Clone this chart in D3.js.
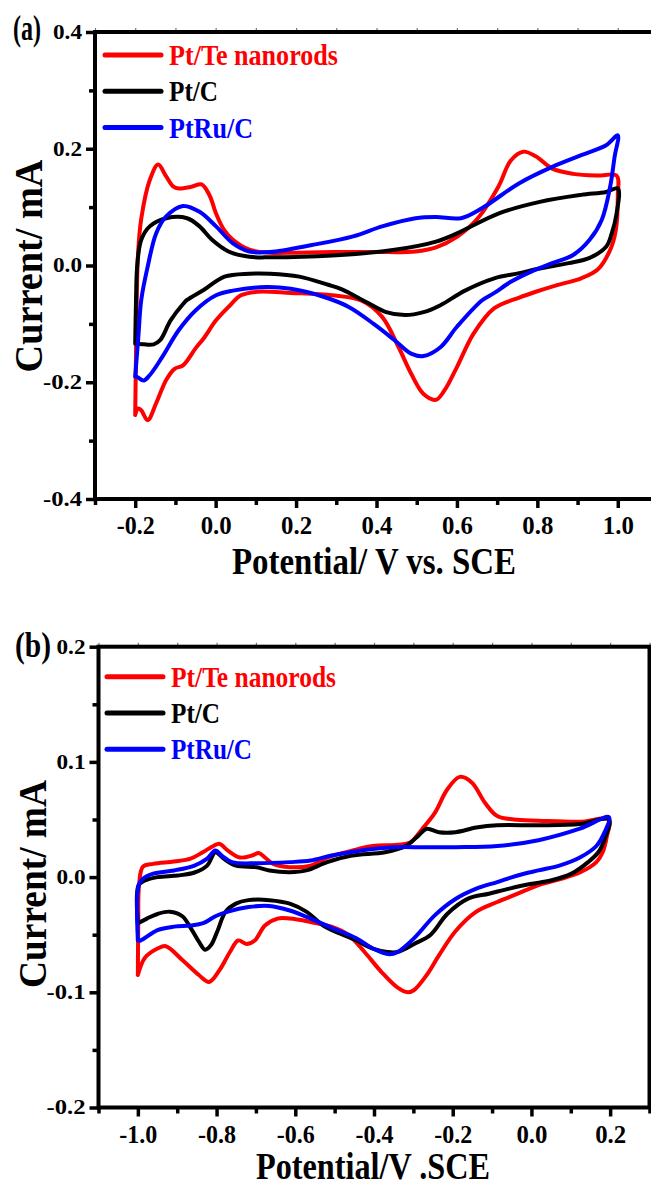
<!DOCTYPE html>
<html>
<head>
<meta charset="utf-8">
<script src="https://d3js.org/d3.v7.min.js"></script>
<style>
  body { margin: 0; background: #fff; }
  svg { display: block; }
  text { font-family: 'Liberation Serif', 'Times New Roman', serif; font-weight: bold; }
</style>
</head>
<body>
<script>

/*--- Panel (a) data: potential (V vs SCE), current (mA) ---*/
var aPtTe = [[-0.2,-0.255],[-0.198,-0.15],[-0.196,-0.05],[-0.193,0.02],[-0.185,0.08],[-0.164,0.146],[-0.143,0.173],[-0.125,0.155],[-0.105,0.135],[-0.092,0.132],[-0.06,0.135],[-0.035,0.139],[-0.015,0.12],[0.001,0.089],[0.02,0.062],[0.043,0.044],[0.084,0.027],[0.135,0.022],[0.2,0.022],[0.29,0.023],[0.4,0.023],[0.497,0.024],[0.548,0.031],[0.6,0.049],[0.651,0.08],[0.703,0.135],[0.734,0.18],[0.765,0.195],[0.796,0.187],[0.837,0.166],[0.889,0.157],[0.95,0.154],[0.997,0.154],
  [1.0,0.12],[0.995,0.06],[0.98,0.025],[0.95,-0.007],[0.909,-0.022],[0.847,-0.034],[0.796,-0.045],[0.755,-0.055],[0.693,-0.073],[0.641,-0.117],[0.6,-0.174],[0.569,-0.214],[0.548,-0.23],[0.517,-0.22],[0.486,-0.185],[0.455,-0.14],[0.414,-0.088],[0.362,-0.06],[0.29,-0.051],[0.187,-0.047],[0.104,-0.045],[0.063,-0.051],[0.032,-0.071],[0.001,-0.094],[-0.03,-0.125],[-0.05,-0.142],[-0.081,-0.171],[-0.102,-0.177],[-0.123,-0.196],[-0.148,-0.236],[-0.169,-0.265],[-0.185,-0.248],[-0.193,-0.245],[-0.2,-0.256]];
var aPtC = [[-0.2,-0.134],[-0.198,-0.06],[-0.195,0.0],[-0.185,0.044],[-0.164,0.067],[-0.123,0.081],[-0.071,0.081],[-0.04,0.067],[-0.009,0.044],[0.032,0.024],[0.084,0.015],[0.135,0.014],[0.29,0.017],[0.445,0.027],[0.548,0.041],[0.6,0.055],[0.703,0.089],[0.806,0.109],[0.909,0.121],[0.971,0.126],[1.0,0.132],
  [0.997,0.089],[0.985,0.055],[0.971,0.032],[0.93,0.013],[0.878,0.004],[0.806,-0.005],[0.755,-0.013],[0.693,-0.022],[0.62,-0.043],[0.559,-0.068],[0.517,-0.08],[0.471,-0.085],[0.424,-0.08],[0.373,-0.062],[0.311,-0.04],[0.28,-0.033],[0.208,-0.019],[0.135,-0.014],[0.084,-0.014],[0.022,-0.019],[-0.03,-0.042],[-0.071,-0.059],[-0.081,-0.066],[-0.112,-0.094],[-0.138,-0.128],[-0.154,-0.135],[-0.179,-0.135],[-0.195,-0.134],[-0.2,-0.134]];
var aPtRu = [[-0.2,-0.19],[-0.192,-0.12],[-0.185,-0.059],[-0.169,-0.002],[-0.148,0.055],[-0.123,0.084],[-0.081,0.102],[-0.04,0.092],[0.001,0.067],[0.043,0.038],[0.084,0.024],[0.135,0.023],[0.239,0.035],[0.342,0.05],[0.414,0.067],[0.497,0.081],[0.548,0.083],[0.61,0.081],[0.662,0.098],[0.755,0.141],[0.837,0.169],[0.909,0.189],[0.971,0.206],[1.0,0.223],
  [0.992,0.186],[0.981,0.135],[0.96,0.078],[0.93,0.044],[0.889,0.018],[0.837,0.004],[0.786,-0.01],[0.734,-0.028],[0.693,-0.047],[0.662,-0.06],[0.6,-0.105],[0.559,-0.14],[0.517,-0.155],[0.486,-0.151],[0.445,-0.128],[0.393,-0.1],[0.331,-0.071],[0.27,-0.054],[0.187,-0.04],[0.125,-0.037],[0.043,-0.043],[0.001,-0.051],[-0.05,-0.077],[-0.092,-0.111],[-0.133,-0.157],[-0.164,-0.188],[-0.179,-0.197],[-0.195,-0.191],[-0.2,-0.19]];

/*--- Panel (b) data ---*/
var bPtTe = [[-1.0,-0.085],[-0.999,-0.04],[-0.997,-0.007],[-0.987,0.009],[-0.961,0.0115],[-0.908,0.0135],[-0.866,0.016],[-0.835,0.0216],[-0.808,0.027],[-0.793,0.029],[-0.771,0.023],[-0.74,0.017],[-0.708,0.019],[-0.693,0.021],[-0.677,0.017],[-0.656,0.0115],[-0.614,0.0086],[-0.561,0.01],[-0.519,0.017],[-0.456,0.023],[-0.403,0.027],[-0.34,0.028],[-0.308,0.03],[-0.277,0.042],[-0.245,0.056],[-0.214,0.076],[-0.182,0.087],[-0.151,0.082],[-0.119,0.065],[-0.087,0.053],[-0.045,0.05],[0.018,0.049],[0.123,0.048],[0.197,0.05],
  [0.192,0.036],[0.181,0.0216],[0.165,0.013],[0.123,0.004],[0.071,-0.002],[0.018,-0.007],[-0.035,-0.0144],[-0.087,-0.0216],[-0.14,-0.03],[-0.193,-0.047],[-0.235,-0.068],[-0.266,-0.085],[-0.298,-0.098],[-0.314,-0.1],[-0.34,-0.096],[-0.382,-0.082],[-0.424,-0.065],[-0.466,-0.05],[-0.508,-0.043],[-0.561,-0.039],[-0.614,-0.036],[-0.645,-0.036],[-0.677,-0.042],[-0.703,-0.055],[-0.724,-0.058],[-0.745,-0.055],[-0.766,-0.065],[-0.793,-0.081],[-0.819,-0.091],[-0.845,-0.085],[-0.887,-0.072],[-0.929,-0.06],[-0.95,-0.062],[-0.982,-0.07],[-1.0,-0.085]];
var bPtC = [[-1.0,-0.04],[-0.998,-0.007],[-0.982,-0.003],[-0.95,0.0],[-0.898,0.0014],[-0.856,0.004],[-0.824,0.01],[-0.803,0.0216],[-0.782,0.016],[-0.751,0.01],[-0.698,0.0086],[-0.666,0.0058],[-0.614,0.0043],[-0.572,0.0058],[-0.519,0.013],[-0.456,0.0187],[-0.372,0.0216],[-0.319,0.027],[-0.287,0.036],[-0.266,0.042],[-0.235,0.039],[-0.193,0.039],[-0.14,0.043],[-0.087,0.045],[0.018,0.045],[0.123,0.046],[0.197,0.05],
  [0.186,0.033],[0.17,0.0216],[0.144,0.013],[0.102,0.003],[0.049,-0.003],[-0.003,-0.006],[-0.056,-0.01],[-0.108,-0.0144],[-0.161,-0.0187],[-0.214,-0.032],[-0.256,-0.05],[-0.298,-0.058],[-0.34,-0.065],[-0.366,-0.065],[-0.403,-0.062],[-0.445,-0.055],[-0.487,-0.049],[-0.529,-0.042],[-0.572,-0.03],[-0.614,-0.023],[-0.666,-0.02],[-0.719,-0.02],[-0.751,-0.023],[-0.777,-0.03],[-0.798,-0.047],[-0.814,-0.059],[-0.829,-0.063],[-0.845,-0.056],[-0.866,-0.044],[-0.887,-0.034],[-0.919,-0.03],[-0.95,-0.032],[-0.977,-0.036],[-1.0,-0.04]];
var bPtRu = [[-1.0,-0.055],[-0.998,-0.007],[-0.987,-0.0014],[-0.961,0.003],[-0.908,0.0058],[-0.856,0.01],[-0.824,0.016],[-0.803,0.023],[-0.787,0.0187],[-0.761,0.013],[-0.698,0.012],[-0.614,0.013],[-0.561,0.0144],[-0.508,0.0187],[-0.424,0.0236],[-0.351,0.026],[-0.298,0.026],[-0.193,0.026],[-0.087,0.027],[0.018,0.032],[0.123,0.042],[0.197,0.052],
  [0.186,0.039],[0.165,0.027],[0.123,0.017],[0.071,0.01],[0.018,0.0058],[-0.035,0.0014],[-0.087,-0.0043],[-0.14,-0.01],[-0.193,-0.019],[-0.245,-0.033],[-0.298,-0.053],[-0.34,-0.065],[-0.361,-0.067],[-0.403,-0.062],[-0.445,-0.053],[-0.508,-0.044],[-0.561,-0.036],[-0.614,-0.029],[-0.666,-0.025],[-0.719,-0.026],[-0.771,-0.03],[-0.803,-0.034],[-0.834,-0.04],[-0.866,-0.042],[-0.908,-0.043],[-0.95,-0.046],[-0.993,-0.055],[-1.0,-0.055]];

/*--- Labels and ticks ---*/
var seriesNames = ["Pt/Te nanorods", "Pt/C", "PtRu/C"];
var seriesColors = ["#ff0000", "#000000", "#0000ff"];

var aXMajor = [-0.2, 0, 0.2, 0.4, 0.6, 0.8, 1.0];
var aXMinor = [-0.3, -0.1, 0.1, 0.3, 0.5, 0.7, 0.9, 1.1];
var aYMajor = [-0.4, -0.2, 0, 0.2, 0.4];
var aYMinor = [-0.3, -0.1, 0.1, 0.3];

var bXMajor = [-1.0, -0.8, -0.6, -0.4, -0.2, 0, 0.2];
var bXMinor = [-1.1, -0.9, -0.7, -0.5, -0.3, -0.1, 0.1, 0.3];
var bYMajor = [-0.2, -0.1, 0, 0.1, 0.2];
var bYMinor = [-0.15, -0.05, 0.05, 0.15];

var svg = d3.select("body").append("svg")
  .attr("width", 651).attr("height", 1186);

function fmt(d) { return d.toFixed(1); }

/*--- Draws one CV panel ---*/
function drawPanel(p) {
  var x = d3.scaleLinear().domain(p.xDomain).range([p.left, p.right]),
    y = d3.scaleLinear().domain(p.yDomain).range([p.bottom, p.top]),
    g = svg.append("g");

  // minor ticks
  g.append("g").attr("transform", "translate(0," + p.bottom + ")")
    .call(d3.axisBottom(x).tickValues(p.xMinor).tickSize(6).tickFormat(""))
    .call(function(s){ s.select(".domain").remove(); s.selectAll("line").attr("stroke-width", 3.5); });
  g.append("g").attr("transform", "translate(" + p.left + ",0)")
    .call(d3.axisLeft(y).tickValues(p.yMinor).tickSize(6).tickFormat(""))
    .call(function(s){ s.select(".domain").remove(); s.selectAll("line").attr("stroke-width", 3.5); });

  // top ticks (thin)
  g.append("g").attr("transform", "translate(0," + p.top + ")")
    .call(d3.axisTop(x).tickValues(p.xMajor.concat(p.xMinor)).tickSize(4).tickFormat(""))
    .call(function(s){ s.select(".domain").remove(); s.selectAll("line").attr("stroke-width", 1.2).attr("stroke", "#777"); });

  // major ticks + labels
  g.append("g").attr("transform", "translate(0," + p.bottom + ")")
    .call(d3.axisBottom(x).tickValues(p.xMajor).tickSize(9).tickFormat(fmt))
    .call(function(s){
      s.select(".domain").remove();
      s.selectAll("line").attr("stroke-width", 3.5);
      s.selectAll("text").attr("y", 35).attr("dy", 0)
        .attr("fill", "#000").style("font-size", "25px")
        .attr("textLength", function(d){ return fmt(d).length > 3 ? 38 : 31; })
        .attr("lengthAdjust", "spacingAndGlyphs");
    });
  g.append("g").attr("transform", "translate(" + p.left + ",0)")
    .call(d3.axisLeft(y).tickValues(p.yMajor).tickSize(9).tickPadding(4).tickFormat(fmt))
    .call(function(s){
      s.select(".domain").remove();
      s.selectAll("line").attr("stroke-width", 3.5);
      s.selectAll("text").attr("fill", "#000").style("font-size", "20px")
        .attr("textLength", function(d){ return fmt(d).length > 3 ? 39 : 29; })
        .attr("lengthAdjust", "spacingAndGlyphs");
    });

  // frame
  g.append("rect")
    .attr("x", p.left).attr("y", p.top)
    .attr("width", p.right - p.left).attr("height", p.bottom - p.top)
    .attr("fill", "none").attr("stroke", "#000").attr("stroke-width", 4);

  // curves
  var line = d3.line()
    .x(function(d){ return x(d[0]); })
    .y(function(d){ return y(d[1]); })
    .curve(d3.curveCatmullRom.alpha(0.5));

  p.series.forEach(function(s, i){
    g.append("path").datum(s)
      .attr("d", line)
      .attr("fill", "none")
      .attr("stroke", seriesColors[i])
      .attr("stroke-width", 4)
      .attr("stroke-linejoin", "round")
      .attr("stroke-linecap", "round");
  });

  // legend
  seriesNames.forEach(function(name, i){
    var ly = p.legendY + i * 36.3;
    g.append("line")
      .attr("x1", p.legendX).attr("x2", p.legendX + 56)
      .attr("y1", ly).attr("y2", ly)
      .attr("stroke", seriesColors[i]).attr("stroke-width", 5)
      .attr("stroke-linecap", "round");
    g.append("text")
      .attr("x", p.legendX + 64).attr("y", ly + 10)
      .attr("fill", seriesColors[i])
      .style("font-size", "30px")
      .attr("textLength", p.legendLen[i])
      .attr("lengthAdjust", "spacingAndGlyphs")
      .text(name);
  });

  // panel tag
  g.append("text")
    .attr("x", p.tagX).attr("y", p.tagY)
    .style("font-size", "35px")
    .attr("textLength", p.tagLen).attr("lengthAdjust", "spacingAndGlyphs")
    .text(p.tag);

  // axis titles
  g.append("text")
    .attr("x", p.xTitleX).attr("y", p.xTitleY)
    .attr("text-anchor", "middle")
    .style("font-size", "38px")
    .attr("textLength", p.xTitleLen).attr("lengthAdjust", "spacingAndGlyphs")
    .text(p.xTitle);
  g.append("text")
    .attr("transform", "translate(" + p.yTitleX + "," + p.yTitleY + ") rotate(-90)")
    .attr("text-anchor", "middle")
    .style("font-size", "40px")
    .attr("textLength", p.yTitleLen).attr("lengthAdjust", "spacingAndGlyphs")
    .text("Current/ mA");
}

drawPanel({
  series: [aPtTe, aPtC, aPtRu],
  xDomain: [-0.3, 1.1], yDomain: [-0.4, 0.4],
  left: 95, right: 658, top: 32, bottom: 499,
  xMajor: aXMajor, xMinor: aXMinor, yMajor: aYMajor, yMinor: aYMinor,
  legendX: 105, legendY: 55, legendLen: [169, 49, 84],
  tag: "(a)", tagX: 13, tagY: 40, tagLen: 28,
  xTitle: "Potential/ V vs. SCE", xTitleX: 374, xTitleY: 574, xTitleLen: 284,
  yTitleX: 42, yTitleY: 266, yTitleLen: 213
});

drawPanel({
  series: [bPtTe, bPtC, bPtRu],
  xDomain: [-1.1, 0.3], yDomain: [-0.2, 0.2],
  left: 98.5, right: 649.5, top: 646.7, bottom: 1107.5,
  xMajor: bXMajor, xMinor: bXMinor, yMajor: bYMajor, yMinor: bYMinor,
  legendX: 107, legendY: 676.7, legendLen: [165, 49, 81],
  tag: "(b)", tagX: 15, tagY: 657, tagLen: 36,
  xTitle: "Potential/V .SCE", xTitleX: 373, xTitleY: 1179, xTitleLen: 234,
  yTitleX: 46, yTitleY: 884, yTitleLen: 208
});

</script>
</body>
</html>
